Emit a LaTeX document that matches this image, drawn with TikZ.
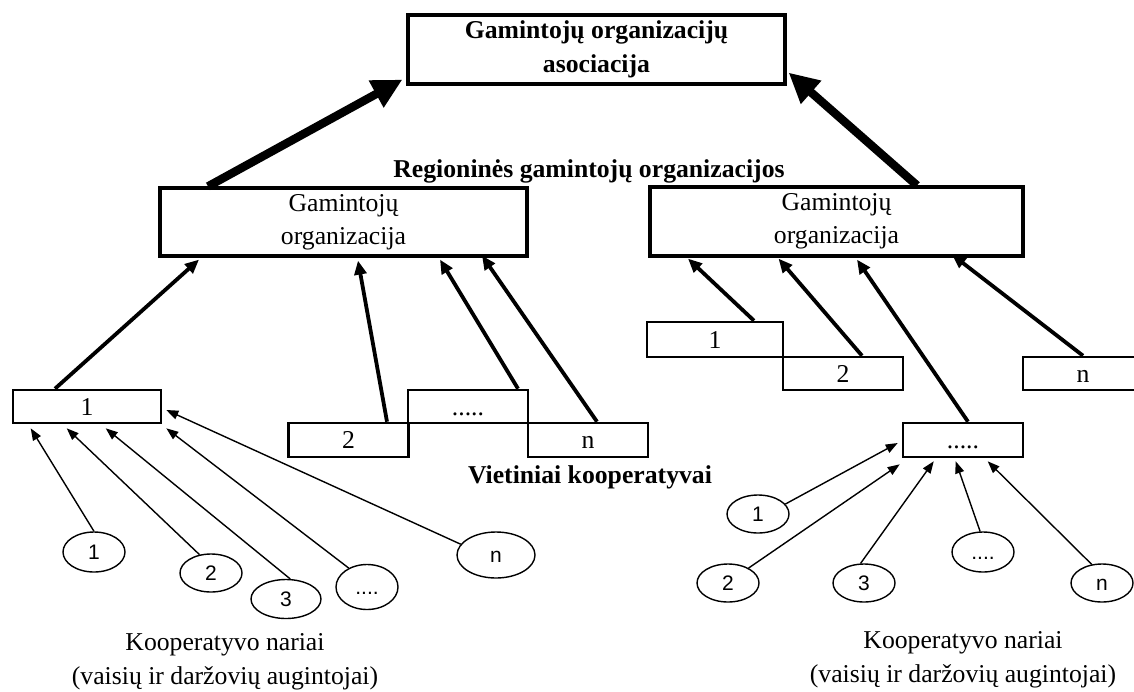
\documentclass[tikz,border=0pt]{standalone}
\usepackage{fontspec}
\setmainfont{Liberation Serif}
\newfontfamily\arialfont{Liberation Sans}
\usetikzlibrary{arrows.meta,shapes.geometric}
\begin{document}
\begin{tikzpicture}[x=0.5pt,y=-0.5pt,
	every node/.style={font=\fontsize{12.85}{16.75}\selectfont},
	heading/.style={font=\bfseries\fontsize{12.85}{17}\selectfont},
	orgbox/.style={draw,line width=1.6pt,inner sep=0pt,align=center,font=\fontsize{12.85}{16.5}\selectfont},
	coopbox/.style={draw,line width=1.3pt,inner sep=0pt,minimum width=60pt,minimum height=17pt,text height=8.7pt,text depth=0pt},
	member/.style={draw,ellipse,line width=0.7pt,inner sep=0pt,minimum width=31pt,minimum height=19pt,text height=7.5pt,text depth=0pt,font=\arialfont\fontsize{10.5}{12}\selectfont},
	bigarrow/.style={-{Triangle[length=15pt,width=14.5pt]},line width=4.2pt},
	midarrow/.style={-{Triangle[length=7pt,width=6pt]},line width=1.9pt},
	thinarrow/.style={-{Triangle[length=6pt,width=4.5pt]},line width=0.7pt}]
\useasboundingbox (0,0) rectangle (1134,691);

% organizacijos
\node[orgbox,heading,minimum width=188.5pt,minimum height=34.5pt] (asoc) at (596.5,49.5) {Gamintojų organizacijų\\asociacija};
\node[orgbox,minimum width=183.5pt,minimum height=34pt] (go1) at (343.5,222) {Gamintojų\\organizacija};
\node[orgbox,minimum width=186.5pt,minimum height=34.5pt] (go2) at (836.5,221.5) {Gamintojų\\organizacija};
\node[heading,anchor=base] (reg) at (589,177) {Regioninės gamintojų organizacijos};

% kooperatyvai
\node[coopbox,minimum width=74pt,minimum height=16.5pt] (k1) at (87,406.5) {1};
\node[coopbox] (k2) at (348.5,440) {2};
\node[coopbox,minimum height=16.5pt] (k3) at (468,406.5) {.....};
\node[coopbox] (k4) at (588,440) {n};
\node[coopbox,minimum width=68pt,minimum height=17.5pt] (kr1) at (715,339.5) {1};
\node[coopbox,minimum height=16.5pt] (kr2) at (843,373.5) {2};
\node[coopbox,minimum height=16.5pt] (krn) at (1083,373.5) {n};
\node[coopbox] (kr3) at (963,440) {.....};
\node[heading,anchor=base] (viet) at (590,483) {Vietiniai kooperatyvai};

% nariai
\node[member,minimum height=20pt] (m1) at (94,552) {1};
\node[member] (m2) at (211,573) {2};
\node[member,minimum width=35pt,minimum height=19.5pt] (m3) at (286,599) {3};
\node[member,minimum height=22.5pt] (m4) at (367,587) {....};
\node[member,minimum width=39pt,minimum height=23pt] (m5) at (496,555) {n};
\node[member] (q1) at (758,514) {1};
\node[member] (q2) at (728,583) {2};
\node[member] (q3) at (864,583) {3};
\node[member,minimum height=20pt] (q4) at (983,552) {....};
\node[member] (q5) at (1102,583) {n};
\node[align=center] (nar1) at (225,662) {Kooperatyvo nariai\\(vaisių ir daržovių augintojai)};
\node[align=center] (nar2) at (963,660) {Kooperatyvo nariai\\(vaisių ir daržovių augintojai)};

% rodykles
\draw[bigarrow] ([xshift=-67.75pt]go1.north) -- ([xshift=-2pt,yshift=3pt]asoc.south west);
\draw[bigarrow] ([xshift=40.25pt]go2.north) -- ([xshift=1pt,yshift=6.5pt]asoc.south east);

\draw[midarrow] ([xshift=-16pt]k1.north) -- ([xshift=-72.25pt,yshift=-1pt]go1.south);
\draw[midarrow] ([xshift=19.25pt]k2.north) -- ([xshift=7.25pt,yshift=-1.5pt]go1.south);
\draw[midarrow] ([xshift=25pt]k3.north) -- ([xshift=48.25pt,yshift=-1pt]go1.south);
\draw[midarrow] ([xshift=4.5pt]k4.north) -- ([xshift=69.25pt,yshift=1pt]go1.south);
\draw[midarrow] ([xshift=19.5pt]kr1.north) -- ([xshift=-74.25pt,yshift=-0.5pt]go2.south);
\draw[midarrow] ([xshift=9.5pt]kr2.north) -- ([xshift=-29pt,yshift=-0.5pt]go2.south);
\draw[midarrow] ([xshift=2.5pt]kr3.north) -- ([xshift=10.25pt,yshift=-1pt]go2.south);
\draw[midarrow] (krn.north) -- ([xshift=57.75pt,yshift=1.5pt]go2.south);

\draw[thinarrow] (m1.north) -- ([xshift=9.5pt,yshift=-2pt]k1.south west);
\draw[thinarrow] (m2.122) -- ([xshift=27.5pt,yshift=-2pt]k1.south west);
\draw[thinarrow] (m3.78) -- ([xshift=47pt,yshift=-2pt]k1.south west);
\draw[thinarrow] (m4.134) -- ([xshift=2pt,yshift=-2pt]k1.south east);
\draw[thinarrow] (m5.163) -- ([xshift=2pt,yshift=-1.75pt]k1.east);
\draw[thinarrow] (q1.20) -- ([xshift=-2pt,yshift=-1.5pt]kr3.west);
\draw[thinarrow] (q2.36) -- ([xshift=-1pt,yshift=-3pt]kr3.south west);
\draw[thinarrow] (q3.100) -- ([xshift=16pt,yshift=-1.5pt]kr3.south west);
\draw[thinarrow] (q4.98) -- ([xshift=27pt,yshift=-1.5pt]kr3.south west);
\draw[thinarrow] (q5.119) -- ([xshift=43pt,yshift=-1.5pt]kr3.south west);
\end{tikzpicture}
\end{document}
